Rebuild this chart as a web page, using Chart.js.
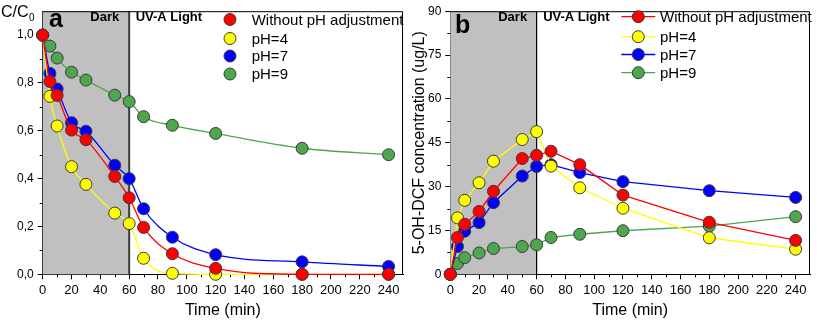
<!DOCTYPE html>
<html><head><meta charset="utf-8">
<script src="https://cdn.jsdelivr.net/npm/chart.js@4"></script>
<style>
html,body{margin:0;padding:0;background:#fff;width:817px;height:323px;overflow:hidden}
#wa{position:absolute;left:0;top:0;width:410px;height:323px}
#wb{position:absolute;left:408px;top:0;width:409px;height:323px}
</style></head><body>
<div id="wa"><canvas id="ca"></canvas></div>
<div id="wb"><canvas id="cb"></canvas></div>
<script>
// ---- data ----
const times = [0, 5, 10, 20, 30, 50, 60, 70, 90, 120, 180, 240];
const seriesNames = ['Without pH adjustment', 'pH=4', 'pH=7', 'pH=9'];
const seriesColors = ['#ff0000', '#ffff00', '#0000ff', '#4ea64e'];
// panel a: C/C0
const ratioNoAdj = [1.0, 0.806, 0.748, 0.603, 0.563, 0.409, 0.320, 0.196, 0.086, 0.025, 0.0, 0.0];
const ratioPH4   = [1.0, 0.744, 0.620, 0.450, 0.376, 0.256, 0.212, 0.067, 0.004, 0.0, 0.0, 0.0];
const ratioPH7   = [1.0, 0.840, 0.775, 0.634, 0.598, 0.456, 0.400, 0.274, 0.155, 0.082, 0.052, 0.033];
const ratioPH9   = [1.0, 0.954, 0.904, 0.845, 0.812, 0.749, 0.722, 0.659, 0.623, 0.589, 0.527, 0.500];
// panel b: 5-OH-DCF (ug/L)
const concNoAdj = [0, 12.6, 17.1, 21.5, 28.4, 39.6, 40.7, 42.1, 37.5, 27.1, 17.8, 11.6];
const concPH4   = [0, 19.3, 25.3, 31.3, 38.7, 46.1, 48.8, 37.0, 29.6, 22.6, 12.5, 8.6];
const concPH7   = [0, 9.5, 14.7, 17.7, 24.5, 33.6, 36.9, 37.5, 34.8, 31.7, 28.6, 26.3];
const concPH9   = [0, 3.7, 5.7, 7.3, 8.8, 9.5, 10.1, 12.6, 13.7, 14.9, 16.5, 19.7];
// ticks
const xTicks = [0, 20, 40, 60, 80, 100, 120, 140, 160, 180, 200, 220, 240];
const xMinor = [10, 30, 50, 70, 90, 110, 130, 150, 170, 190, 210, 230];
const yTicksA = [0, 0.2, 0.4, 0.6, 0.8, 1.0];
const yMinorA = [0.1, 0.3, 0.5, 0.7, 0.9];
const yTicksB = [0, 15, 30, 45, 60, 75, 90];
const yMinorB = [7.5, 22.5, 37.5, 52.5, 67.5, 82.5];
const darkEnd = 60;

const FONT = 'Arial, "Liberation Sans", sans-serif';

function pts(vals){ return times.map((t,i)=>({x:t, y:vals[i]})); }

function makeDatasets(arrs, smooth){
  return arrs.map((vals,i)=>({
    label: seriesNames[i],
    data: pts(vals),
    borderColor: seriesColors[i],
    backgroundColor: seriesColors[i],
    borderWidth: 1.3,
    pointRadius: 6,
    pointHoverRadius: 6,
    pointBorderWidth: 1,
    pointBorderColor: '#3a3a3a',
    pointBackgroundColor: seriesColors[i],
    cubicInterpolationMode: smooth ? 'monotone' : 'default',
    tension: 0,
    clip: false
  }));
}

function tickOpts(list){
  return function(scale){ scale.ticks = list.map(v=>({value:v})); };
}

function decor(cfg){
  return {
    id: 'decor',
    beforeDatasetsDraw(chart){
      const {ctx, chartArea:a, scales:{x,y}} = chart;
      ctx.save();
      const x0 = x.getPixelForValue(0), x60 = x.getPixelForValue(darkEnd);
      ctx.fillStyle = '#c0c0c0';
      ctx.fillRect(x0, a.top, x60 - x0, a.bottom - a.top);
      ctx.strokeStyle = cfg.sepColor; ctx.lineWidth = cfg.sepWidth;
      ctx.beginPath(); ctx.moveTo(x60, a.top); ctx.lineTo(x60, a.bottom); ctx.stroke();
      // frame top & right
      ctx.strokeStyle = '#000'; ctx.lineWidth = 1;
      ctx.beginPath();
      ctx.moveTo(a.left, a.top + 0.5); ctx.lineTo(a.right - 0.5, a.top + 0.5); ctx.lineTo(a.right - 0.5, a.bottom);
      ctx.stroke();
      // minor ticks
      ctx.beginPath();
      cfg.xMinor.forEach(v=>{ const px = Math.round(x.getPixelForValue(v)) + 0.5; ctx.moveTo(px, a.bottom); ctx.lineTo(px, a.bottom + 3); });
      cfg.yMinor.forEach(v=>{ const py = Math.round(y.getPixelForValue(v)) + 0.5; ctx.moveTo(a.left, py); ctx.lineTo(a.left - 3, py); });
      ctx.stroke();
      // Dark / UV-A Light
      ctx.fillStyle = '#000';
      ctx.font = 'bold 13px ' + FONT;
      ctx.textBaseline = 'middle';
      ctx.textAlign = 'right';
      ctx.fillText('Dark', x60 - cfg.darkGap, cfg.labelY);
      ctx.textAlign = 'left';
      ctx.fillText('UV-A Light', x60 + 6.5, cfg.labelY);
      // panel letter
      ctx.font = 'bold 25px ' + FONT;
      ctx.textBaseline = 'alphabetic';
      ctx.fillText(cfg.letter, cfg.letterX, cfg.letterY);
      ctx.restore();
    },
    afterDraw(chart){
      const {ctx} = chart;
      ctx.save();
      // legend
      ctx.font = '15px ' + FONT;
      ctx.textBaseline = 'middle';
      ctx.textAlign = 'left';
      chart.data.datasets.forEach((ds,i)=>{
        const yy = cfg.legY[i];
        if (cfg.legLine){
          ctx.strokeStyle = ds.borderColor; ctx.lineWidth = 1.3;
          ctx.beginPath(); ctx.moveTo(cfg.legX - 17, yy); ctx.lineTo(cfg.legX + 17, yy); ctx.stroke();
        }
        ctx.beginPath(); ctx.arc(cfg.legX, yy, 6, 0, Math.PI*2);
        ctx.fillStyle = ds.pointBackgroundColor; ctx.fill();
        ctx.strokeStyle = '#3a3a3a'; ctx.lineWidth = 1; ctx.stroke();
        ctx.fillStyle = '#000';
        ctx.fillText(ds.label, cfg.legTextX, yy + 1);
      });
      if (cfg.cc){
        ctx.font = '16px ' + FONT;
        ctx.textBaseline = 'alphabetic';
        ctx.fillText('C/C', 1, 17);
        const w = ctx.measureText('C/C').width;
        ctx.font = '10px ' + FONT;
        ctx.fillText('0', 1 + w + 0.5, 21);
      }
      ctx.restore();
    }
  };
}

function baseScales(yMin, yMax, yTicks, yFmt, yWidth, yTitle){
  return {
    x: {
      type: 'linear', min: 0, max: 250,
      afterBuildTicks: tickOpts(xTicks),
      afterFit: s => { s.height = 48.7; },
      grid: { drawOnChartArea: false, drawTicks: true, tickLength: 5, color: '#000', tickWidth: 1 },
      border: { display: true, color: '#000', width: 1 },
      ticks: { color: '#000', font: { family: FONT, size: 13 }, padding: 3, maxRotation: 0, autoSkip: false },
      title: { display: true, text: 'Time (min)', color: '#000', font: { family: FONT, size: 16 }, padding: { top: 0, bottom: 3 } }
    },
    y: {
      type: 'linear', min: yMin, max: yMax,
      afterBuildTicks: tickOpts(yTicks),
      afterFit: s => { s.width = yWidth; },
      grid: { drawOnChartArea: false, drawTicks: true, tickLength: 5, color: '#000', tickWidth: 1 },
      border: { display: true, color: '#000', width: 1 },
      ticks: { color: '#000', font: { family: FONT, size: 12 }, padding: 4, autoSkip: false, callback: yFmt },
      title: yTitle ? { display: true, text: yTitle, color: '#000', font: { family: FONT, size: 16 }, padding: { top: 1.5, bottom: 0 } } : { display: false }
    }
  };
}

const common = {
  responsive: true, maintainAspectRatio: false, animation: false, devicePixelRatio: 1,
  plugins: { legend: { display: false }, tooltip: { enabled: false } },
  events: []
};

new Chart(document.getElementById('ca'), {
  type: 'line',
  data: { datasets: makeDatasets([ratioNoAdj, ratioPH4, ratioPH7, ratioPH9], true) },
  options: Object.assign({}, common, {
    layout: { padding: { left: 0, right: 4, top: 6.5, bottom: 0 } },
    scales: baseScales(0, 1.1, yTicksA, v => Number(v).toFixed(1).replace('.', ','), 42.7, null)
  }),
  plugins: [decor({ sepColor: '#3c3c3c', sepWidth: 2, darkGap: 10, labelY: 17, letter: 'a', letterX: 49, letterY: 27,
    xMinor: xMinor, yMinor: yMinorA, legX: 230, legTextX: 251.7, legY: [19.5, 38.5, 56, 74], legLine: false, cc: true })]
});

new Chart(document.getElementById('cb'), {
  type: 'line',
  data: { datasets: makeDatasets([concNoAdj, concPH4, concPH7, concPH9], false) },
  options: Object.assign({}, common, {
    layout: { padding: { left: 0, right: 2, top: 6.7, bottom: 0 } },
    scales: baseScales(0, 90, yTicksB, v => String(v), 42.3, '5-OH-DCF concentration (ug/L)')
  }),
  plugins: [decor({ sepColor: '#000', sepWidth: 1.2, darkGap: 9.5, labelY: 17.5, letter: 'b', letterX: 47, letterY: 33,
    xMinor: xMinor, yMinor: yMinorB, legX: 230.3, legTextX: 252, legY: [16.7, 36.7, 54.5, 72.7], legLine: true, cc: false })]
});
</script>
</body></html>
